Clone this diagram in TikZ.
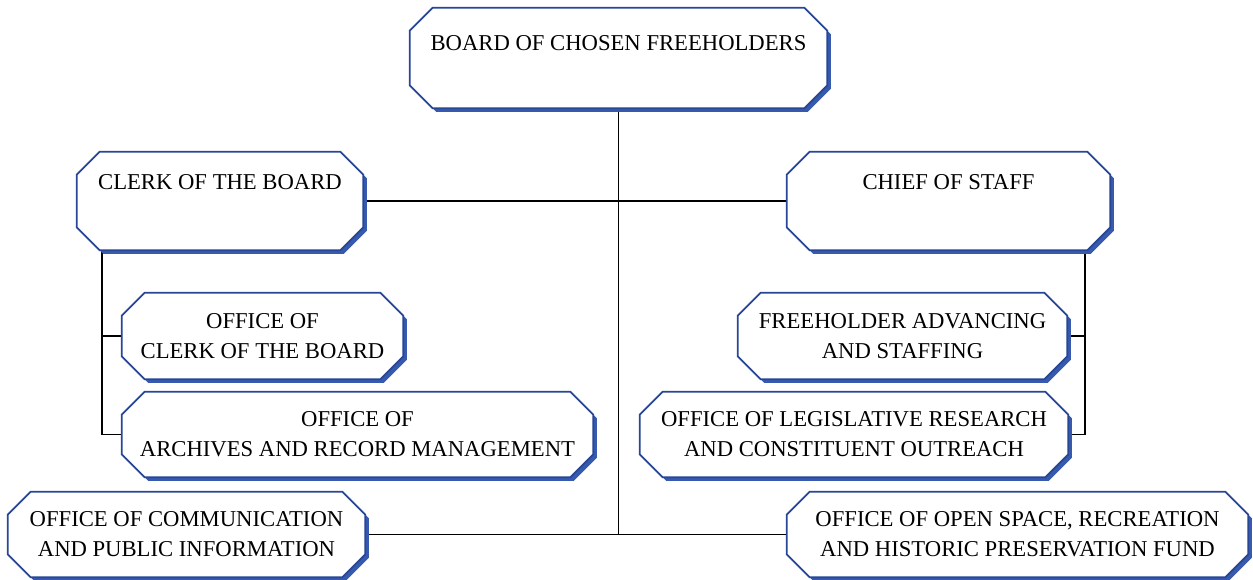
\documentclass[tikz,border=0pt]{standalone}
\usepackage{fontspec}
\setmainfont{Liberation Serif}
\usetikzlibrary{backgrounds}
\definecolor{boxblue}{RGB}{40,70,150}
\definecolor{shadeblue}{RGB}{55,90,175}
\newcommand\cutlen{0.46cm}
\newcommand\octpath[1]{([xshift=\cutlen]#1.north west) -- ([xshift=-\cutlen]#1.north east)
  -- ([yshift=-\cutlen]#1.north east) -- ([yshift=\cutlen]#1.south east)
  -- ([xshift=-\cutlen]#1.south east) -- ([xshift=\cutlen]#1.south west)
  -- ([yshift=\cutlen]#1.south west) -- ([yshift=-\cutlen]#1.north west) -- cycle}
\begin{document}
\begin{tikzpicture}[x=0.02cm,y=-0.02cm]
\tikzset{org box/.style={rectangle,inner sep=0pt,align=center,
  font=\fontsize{12.9}{17}\selectfont},
  link/.style={draw=black,line width=0.6pt}}
\useasboundingbox (0,0) rectangle (1253,580);
\node [org box,minimum width=8.34cm,minimum height=2cm] (board) at (618.5,58) {BOARD OF CHOSEN FREEHOLDERS\\\mbox{}};
\node [org box,minimum width=5.72cm,minimum height=1.96cm] (clerk) at (220,201) {CLERK OF THE BOARD\\\strut};
\node [org box,minimum width=6.46cm,minimum height=1.96cm] (chief) at (948.5,201) {CHIEF OF STAFF\\\strut};
\node [org box,minimum width=5.62cm,minimum height=1.72cm] (ofclerk) at (262.5,336) {OFFICE OF\\CLERK OF THE BOARD};
\node [org box,minimum width=9.42cm,minimum height=1.7cm] (archives) at (357.5,434.5) {OFFICE OF\\ARCHIVES AND RECORD MANAGEMENT};
\node [org box,minimum width=6.58cm,minimum height=1.72cm] (advancing) at (902.5,336) {FREEHOLDER ADVANCING\\AND STAFFING};
\node [org box,minimum width=8.56cm,minimum height=1.7cm] (legis) at (854,434.5) {OFFICE OF LEGISLATIVE RESEARCH\\AND CONSTITUENT OUTREACH};
\node [org box,minimum width=7.14cm,minimum height=1.7cm] (comm) at (186.5,534.5) {OFFICE OF COMMUNICATION\\AND PUBLIC INFORMATION};
\node [org box,minimum width=9.22cm,minimum height=1.7cm] (openspace) at (1017.5,534.5) {OFFICE OF OPEN SPACE, RECREATION\\AND HISTORIC PRESERVATION FUND};
\coordinate (lbus) at (102,250);
\coordinate (rbus) at (1085,250);
\begin{scope}[on background layer]
\draw [link] (board.south) -- (board.south |- comm.east);
\draw [link] (clerk.east) -- (chief.west);
\draw [link] (comm.east) -- (openspace.west);
\draw [link] (lbus) |- (archives.west);
\draw [link] (lbus |- ofclerk.west) -- (ofclerk.west);
\draw [link] (rbus) |- (legis.east);
\draw [link] (rbus |- advancing.east) -- (advancing.east);
% cut-corner boxes with a blue shadow
\foreach \n in {board,clerk,chief,ofclerk,archives,advancing,legis,comm,openspace}{
  \fill [shadeblue,transform canvas={xshift=2pt,yshift=-2pt}] \octpath{\n};
  \draw [boxblue,fill=white,line width=1pt] \octpath{\n};
}
\end{scope}
\end{tikzpicture}
\end{document}
